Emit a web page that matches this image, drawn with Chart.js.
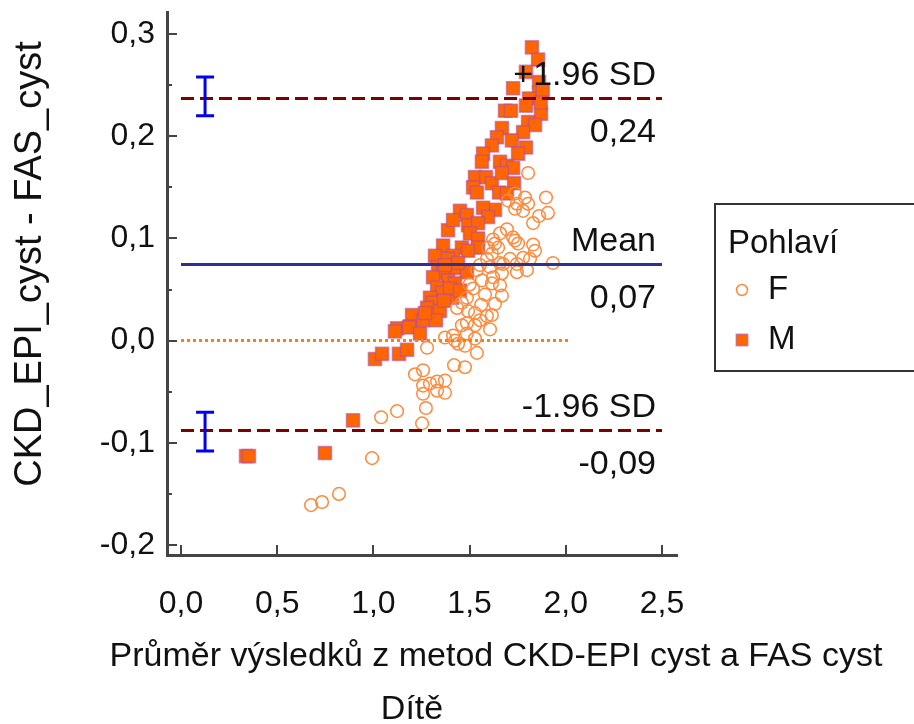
<!DOCTYPE html>
<html lang="cs">
<head>
<meta charset="utf-8">
<title>Bland-Altman – Dítě</title>
<script src="https://cdn.jsdelivr.net/npm/chart.js@4.4.1/dist/chart.umd.min.js"></script>
<style>
  html, body { margin: 0; padding: 0; background: #fff; }
  #wrap { width: 914px; height: 724px; }
</style>
</head>
<body>
<div id="wrap"><canvas id="chart" width="914" height="724"></canvas></div>
<script>
// --- data ---
const xTicks = [0, 0.5, 1, 1.5, 2, 2.5];
const yTicks = [-0.2, -0.1, 0, 0.1, 0.2, 0.3];
const yMinorTicks = [-0.15, -0.05, 0.05, 0.15, 0.25];

// F (dívky)
const femaleAvg = [1.804, 1.736, 1.788, 1.804, 1.897, 1.736, 1.907, 1.861, 1.830, 1.694,
  1.658, 1.726, 1.752, 1.830, 1.622, 1.596, 1.648, 1.840, 1.778, 1.933,
  1.590, 1.674, 1.606, 1.668, 1.746, 1.814, 1.778, 1.746, 1.736, 1.632,
  1.616, 1.658, 1.710, 1.798, 1.746, 1.622, 1.554, 1.538, 1.564, 1.616,
  1.658, 1.668, 1.632, 1.518, 1.486, 1.460, 1.435, 1.492, 1.528, 1.590,
  1.616, 1.554, 1.486, 1.528, 1.606, 1.486, 1.414, 1.372, 1.279, 1.424,
  1.440, 1.476, 1.528, 1.538, 1.419, 1.476, 1.216, 1.258, 1.258, 1.294,
  1.331, 1.372, 1.331, 1.372, 1.258, 1.273, 1.123, 1.040, 1.253, 0.993,
  0.821, 0.733, 0.676, 1.700, 1.580, 1.500, 1.460, 1.560];
const femaleDiff = [0.164, 0.144, 0.140, 0.134, 0.140, 0.129, 0.125, 0.122, 0.115, 0.109,
  0.105, 0.101, 0.095, 0.094, 0.099, 0.091, 0.091, 0.088, 0.081, 0.076,
  0.080, 0.075, 0.072, 0.066, 0.075, 0.080, 0.127, 0.134, 0.098, 0.095,
  0.085, 0.076, 0.080, 0.069, 0.067, 0.062, 0.074, 0.069, 0.059, 0.056,
  0.054, 0.044, 0.036, 0.051, 0.042, 0.037, 0.032, 0.029, 0.027, 0.024,
  0.025, 0.020, 0.017, 0.015, 0.011, 0.007, 0.005, 0.003, -0.007, 0.000,
  -0.003, -0.005, 0.002, -0.012, -0.024, -0.026, -0.033, -0.029, -0.044, -0.042,
  -0.040, -0.039, -0.049, -0.051, -0.052, -0.066, -0.069, -0.075, -0.081, -0.115,
  -0.150, -0.158, -0.161, 0.137, 0.045, 0.055, 0.015, 0.035];

// M (chlapci)
const maleAvg = [1.824, 1.856, 1.793, 1.861, 1.726, 1.861, 1.809, 1.793, 1.684, 1.715,
  1.871, 1.804, 1.840, 1.668, 1.778, 1.642, 1.720, 1.616, 1.793, 1.752,
  1.570, 1.564, 1.658, 1.694, 1.726, 1.528, 1.585, 1.616, 1.668, 1.731,
  1.518, 1.538, 1.653, 1.694, 1.450, 1.632, 1.570, 1.596, 1.486, 1.492,
  1.388, 1.544, 1.414, 1.502, 1.544, 1.362, 1.460, 1.544, 1.320, 1.492,
  1.414, 1.388, 1.336, 1.424, 1.486, 1.362, 1.310, 1.388, 1.424, 1.331,
  1.357, 1.294, 1.409, 1.310, 1.279, 1.346, 1.201, 1.258, 1.190, 1.123,
  1.112, 1.185, 1.242, 1.325, 1.008, 1.045, 1.133, 1.175, 0.894, 0.748,
  0.338, 0.353, 1.440, 1.372, 1.398, 1.450, 1.367, 1.268, 1.880, 1.870];
const maleDiff = [0.287, 0.275, 0.263, 0.253, 0.247, 0.243, 0.237, 0.230, 0.225, 0.225,
  0.222, 0.214, 0.211, 0.208, 0.204, 0.199, 0.196, 0.191, 0.189, 0.183,
  0.183, 0.175, 0.175, 0.171, 0.169, 0.160, 0.160, 0.154, 0.164, 0.154,
  0.150, 0.145, 0.145, 0.144, 0.127, 0.128, 0.130, 0.121, 0.123, 0.113,
  0.108, 0.115, 0.118, 0.105, 0.100, 0.093, 0.091, 0.091, 0.083, 0.088,
  0.083, 0.080, 0.072, 0.071, 0.067, 0.066, 0.062, 0.059, 0.056, 0.052,
  0.047, 0.042, 0.042, 0.037, 0.032, 0.029, 0.025, 0.020, 0.014, 0.012,
  0.009, 0.013, 0.007, 0.020, -0.018, -0.013, -0.013, -0.009, -0.078, -0.110,
  -0.113, -0.113, 0.076, 0.074, 0.051, 0.049, 0.039, 0.027, 0.245, 0.233];

// Bland-Altman limits: +1.96 SD, Mean, -1.96 SD
const refNames = ['+1.96 SD', 'Mean', '-1.96 SD'];
const refValues = [0.237, 0.0745, -0.088];
const refLineX = [0, 2.5];
const zeroLineX = [0, 2.02];
// 95% CI of the limits (blue bars)
const ciX = 0.125;
const ciLow = [0.220, -0.108];
const ciHigh = [0.258, -0.070];

const xTitle = 'Průměr výsledků z metod CKD-EPI cyst a FAS cyst';
const groupTitle = 'Dítě';
const yTitle = 'CKD_EPI_cyst - FAS_cyst';
const legendTitle = 'Pohlaví';

// --- helpers ---
const FONT = "'Liberation Sans', Arial, sans-serif";
const fmt = (v, d) => v.toFixed(d).replace('.', ',');
const pts = (xs, ys) => xs.map((x, i) => ({ x, y: ys[i] }));

const femaleStyle = { pointStyle: 'circle', pointRadius: 6.3, borderColor: '#ff8a3d', backgroundColor: 'rgba(255,255,255,0)', borderWidth: 1.5 };
const maleStyle = { pointStyle: 'rect', pointRadius: 9.2, borderColor: 'rgba(185,75,150,0.6)', backgroundColor: '#ff6600', borderWidth: 1.6 };

// ticks drawn inside the axes
const axisTicks = {
  id: 'axisTicks',
  afterDraw(chart) {
    const { ctx, chartArea: a, scales: { x, y } } = chart;
    ctx.save();
    ctx.strokeStyle = '#444';
    ctx.lineWidth = 2;
    ctx.beginPath();
    yTicks.forEach(v => {
      const py = Math.round(y.getPixelForValue(v));
      ctx.moveTo(a.left, py); ctx.lineTo(a.left + 10, py);
    });
    yMinorTicks.forEach(v => {
      const py = Math.round(y.getPixelForValue(v));
      ctx.moveTo(a.left, py); ctx.lineTo(a.left + 5, py);
    });
    xTicks.forEach(v => {
      const px = Math.round(x.getPixelForValue(v));
      ctx.moveTo(px, a.bottom); ctx.lineTo(px, a.bottom - 10);
    });
    ctx.stroke();
    ctx.restore();
  }
};

// CI bars + labels of the reference lines
const refMarks = {
  id: 'refMarks',
  afterDatasetsDraw(chart) {
    const { ctx, scales: { x, y } } = chart;
    ctx.save();
    ctx.strokeStyle = '#0000ee';
    ctx.lineWidth = 3;
    const cx = x.getPixelForValue(ciX);
    ciLow.forEach((lo, i) => {
      const top = y.getPixelForValue(ciHigh[i]);
      const bot = y.getPixelForValue(lo);
      ctx.beginPath();
      ctx.moveTo(cx, top); ctx.lineTo(cx, bot);
      ctx.moveTo(cx - 9, top); ctx.lineTo(cx + 9, top);
      ctx.moveTo(cx - 9, bot); ctx.lineTo(cx + 9, bot);
      ctx.stroke();
    });

    ctx.fillStyle = '#111';
    ctx.font = `34px ${FONT}`;
    ctx.textAlign = 'right';
    ctx.textBaseline = 'middle';
    const rx = x.getPixelForValue(2.5) - 6;
    refValues.forEach((v, i) => {
      const py = y.getPixelForValue(v);
      ctx.fillText(refNames[i], rx, py - 23);
      ctx.fillText(fmt(v, 2), rx, py + 34);
    });
    ctx.restore();
  }
};

// axis titles and legend box
const frame = {
  id: 'frame',
  afterDraw(chart) {
    const { ctx } = chart;
    ctx.save();
    ctx.fillStyle = '#111';
    ctx.textAlign = 'center';
    ctx.textBaseline = 'middle';
    ctx.font = `34px ${FONT}`;
    ctx.fillText(xTitle, 496, 657);
    ctx.fillText(groupTitle, 412, 710);

    ctx.save();
    ctx.translate(31, 264);
    ctx.rotate(-Math.PI / 2);
    ctx.font = `38px ${FONT}`;
    ctx.fillText(yTitle, 0, 0);
    ctx.restore();

    // legend
    ctx.strokeStyle = '#333';
    ctx.lineWidth = 2;
    ctx.strokeRect(715, 204, 230, 167);
    ctx.textAlign = 'left';
    ctx.font = `33px ${FONT}`;
    ctx.fillText(legendTitle, 728, 244);
    const items = [['F', femaleStyle, 290], ['M', maleStyle, 340]];
    items.forEach(([name, st, py]) => {
      ctx.strokeStyle = st.borderColor;
      ctx.fillStyle = st.backgroundColor;
      ctx.lineWidth = st.borderWidth;
      Chart.helpers.drawPoint(ctx, { pointStyle: st.pointStyle, radius: st.pointStyle === 'rect' ? 8 : 5.5, borderWidth: st.borderWidth }, 742, py);
      ctx.fillStyle = '#111';
      ctx.fillText(name, 768, py);
    });
    ctx.restore();
  }
};

const lineDs = (xs, v, color, dash, order) => ({
  data: xs.map(x => ({ x, y: v })),
  showLine: true, pointRadius: 0, borderColor: color, borderWidth: 3,
  borderDash: dash, order
});

const noEdgePad = s => { s.paddingTop = 0; s.paddingBottom = 0; s.paddingLeft = 0; s.paddingRight = 0; };

new Chart(document.getElementById('chart'), {
  type: 'scatter',
  data: {
    datasets: [
      { label: 'F', data: pts(femaleAvg, femaleDiff), ...femaleStyle, order: 2 },
      { label: 'M', data: pts(maleAvg, maleDiff), ...maleStyle, order: 3 },
      lineDs(zeroLineX, 0, '#ff8000', [3, 3], 1),
      lineDs(refLineX, refValues[0], '#800000', [13, 6], 0),
      lineDs(refLineX, refValues[1], '#2e3192', [], 0),
      lineDs(refLineX, refValues[2], '#800000', [13, 6], 0)
    ]
  },
  options: {
    responsive: false,
    animation: false,
    layout: { padding: { top: 12, right: 237, bottom: 0, left: 0 } },
    plugins: { legend: { display: false }, tooltip: { enabled: false } },
    scales: {
      x: {
        type: 'linear', min: -0.0728, max: 2.578,
        grid: { display: false, drawTicks: false },
        border: { display: true, color: '#444', width: 3 },
        afterBuildTicks: s => { s.ticks = xTicks.map(v => ({ value: v })); },
        afterFit: s => { s.height = 169; noEdgePad(s); },
        ticks: { color: '#111', font: { family: FONT, size: 32 }, padding: 30, maxRotation: 0, autoSkip: false, callback: v => fmt(v, 1) }
      },
      y: {
        type: 'linear', min: -0.2098, max: 0.3216,
        grid: { display: false, drawTicks: false },
        border: { display: true, color: '#444', width: 3 },
        afterBuildTicks: s => { s.ticks = yTicks.map(v => ({ value: v })); },
        afterFit: s => { s.width = 167; noEdgePad(s); },
        ticks: { color: '#111', font: { family: FONT, size: 32 }, padding: 12, autoSkip: false, callback: v => fmt(v, 1) }
      }
    }
  },
  plugins: [axisTicks, refMarks, frame]
});
</script>
</body>
</html>
